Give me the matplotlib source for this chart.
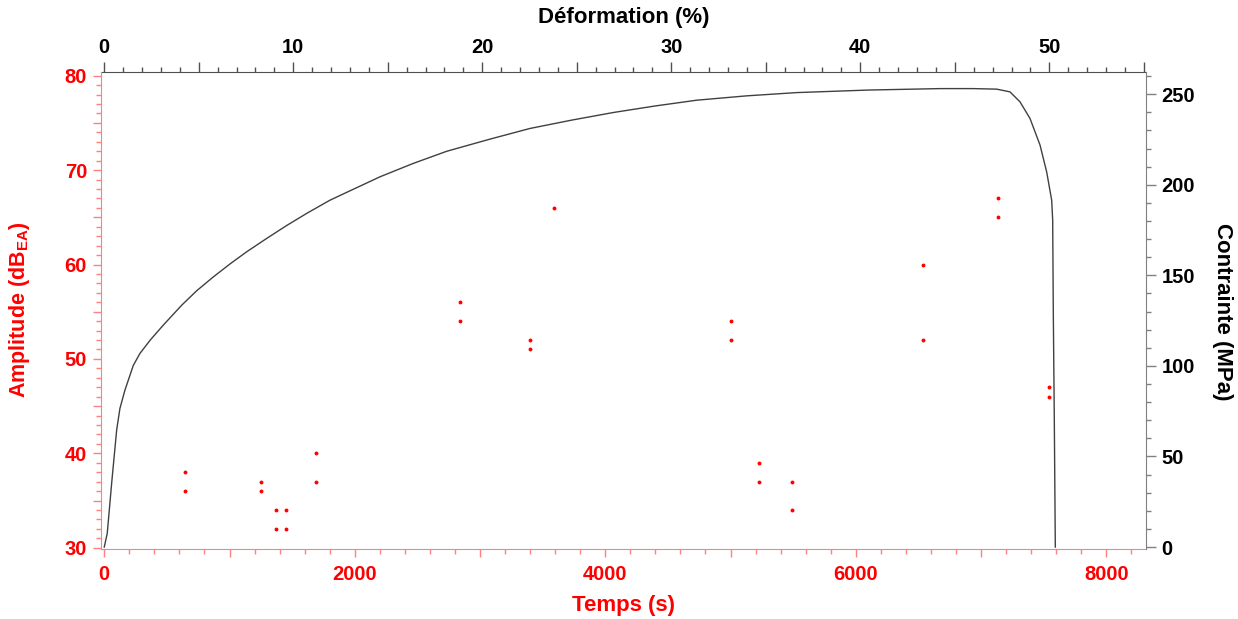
import matplotlib
matplotlib.use("Agg")
import matplotlib.pyplot as plt
from matplotlib.ticker import FixedLocator, FuncFormatter
import numpy as np

plt.rcParams['font.family'] = ['Liberation Sans', 'DejaVu Sans']
plt.rcParams['font.weight'] = 'bold'
plt.rcParams['mathtext.fontset'] = 'custom'
plt.rcParams['mathtext.rm'] = 'Liberation Sans:bold'
plt.rcParams['mathtext.bf'] = 'Liberation Sans:bold'

# --- data: acoustic emission hits (time s, amplitude dB) ---
hit_time = [647, 647, 1253, 1253, 1368, 1368, 1448, 1448, 1690, 1690,
            2838, 2838, 3401, 3401, 3593, 5006, 5006, 5225, 5225,
            5491, 5491, 6537, 6537, 7133, 7133, 7540, 7540]
hit_amp = [38, 36, 37, 36, 34, 32, 34, 32, 40, 37,
           56, 54, 52, 51, 66, 54, 52, 39, 37,
           37, 34, 60, 52, 67, 65, 47, 46]

# --- data: stress curve (time s, stress MPa) ---
curve_time = [0, 24, 59, 99, 125, 165, 232, 285, 365, 471, 618, 738, 870, 1004,
              1137, 1297, 1456, 1616, 1802, 2201, 2467, 2734, 3079, 3399, 3732,
              4064, 4397, 4730, 5129, 5529, 6100, 6672, 6938, 7125, 7231,
              7311, 7391, 7471, 7524, 7564, 7572, 7577, 7585, 7593]
curve_stress = [0, 7.6, 35.2, 64.6, 76.5, 86.6, 100.3, 106.9, 114.1, 122.5, 133.5,
                141.5, 149.1, 156.3, 163.0, 170.4, 177.5, 184.2, 191.5, 204.4,
                211.8, 218.5, 225.2, 231.1, 235.7, 239.9, 243.5, 246.7, 249.1,
                250.9, 252.3, 253.1, 253.1, 252.8, 251.3, 245.8, 236.6, 221.9,
                207.1, 191.5, 180.5, 129, 70, 0]

# tick labels
time_ticks = [0, 2000, 4000, 6000, 8000]
amp_ticks = [30, 40, 50, 60, 70, 80]
stress_ticks = [0, 50, 100, 150, 200, 250]
strain_ticks = [0, 10, 20, 30, 40, 50]

# seconds per percent of strain (top axis scale)
SEC_PER_PCT = 150.9

RED = '#ff0000'
LRED = '#ff8080'
GRAY = '#808080'
DGRAY = '#505050'
TL = 14.5   # tick label size
AL = 16     # axis label size

fig = plt.figure(figsize=(12.38, 6.19), dpi=100)
ax = fig.add_axes([101/1238, 1 - 548.5/619, (1146 - 101)/1238, (548.5 - 72.3)/619])

ax.plot(hit_time, hit_amp, 'o', color=RED, ms=2.8, mew=0, zorder=3)
ax.set_xlim(-26, 8317)
ax.set_ylim(29.92, 80.36)

axr = ax.twinx()
axr.plot(curve_time, curve_stress, color='#404040', lw=1.0)
axr.set_ylim(-0.8, 262.1)

# spines
for s in ['top', 'right']:
    ax.spines[s].set_visible(False)
for s in ['left', 'bottom', 'top']:
    axr.spines[s].set_visible(False)
ax.spines['left'].set_color(LRED)
ax.spines['bottom'].set_color(LRED)
axr.spines['right'].set_color(GRAY)

def only(labels):
    return FuncFormatter(lambda v, p: f"{int(round(v))}" if any(abs(v - l) < 1e-6 for l in labels) else "")

# bottom axis
ax.xaxis.set_major_locator(FixedLocator(list(range(0, 8001, 1000))))
ax.xaxis.set_minor_locator(FixedLocator(list(range(0, 8301, 200))))
ax.xaxis.set_major_formatter(only(time_ticks))
ax.tick_params(axis='x', which='major', direction='out', length=6, width=1, color=LRED,
               labelcolor=RED, labelsize=TL, pad=6)
ax.tick_params(axis='x', which='minor', direction='out', length=3.6, width=1, color=LRED)

# left axis
ax.yaxis.set_major_locator(FixedLocator(list(range(30, 81, 5))))
ax.yaxis.set_minor_locator(FixedLocator(list(range(30, 81, 1))))
ax.yaxis.set_major_formatter(only(amp_ticks))
ax.tick_params(axis='y', which='major', direction='out', length=6, width=1, color=LRED,
               labelcolor=RED, labelsize=TL, pad=4)
ax.tick_params(axis='y', which='minor', direction='out', length=3.6, width=1, color=LRED)

# right axis
axr.yaxis.set_major_locator(FixedLocator(stress_ticks))
axr.yaxis.set_minor_locator(FixedLocator(list(range(0, 261, 10))))
axr.tick_params(axis='y', which='major', direction='out', length=7, width=1, color=GRAY,
                labelcolor='black', labelsize=TL, pad=4)
axr.tick_params(axis='y', which='minor', direction='out', length=3.6, width=1, color=GRAY)

# top axis (strain)
sec = ax.secondary_xaxis('top', functions=(lambda t: np.asarray(t) / SEC_PER_PCT,
                                           lambda d: np.asarray(d) * SEC_PER_PCT))
sec.spines['top'].set_color(DGRAY)
sec.xaxis.set_major_locator(FixedLocator(list(range(0, 56, 5))))
sec.xaxis.set_minor_locator(FixedLocator(list(range(0, 56, 1))))
sec.xaxis.set_major_formatter(only(strain_ticks))
sec.tick_params(axis='x', which='major', direction='out', length=7, width=1, color=DGRAY,
                labelcolor='black', labelsize=TL, pad=4)
sec.tick_params(axis='x', which='minor', direction='out', length=3.6, width=1, color=DGRAY)

# labels
cx = 0.5 * (101 + 1146) / 1238
fig.text(cx, 1 - 17/619, "Déformation (%)", ha='center', va='center',
         fontsize=AL, fontweight='bold', color='black')
fig.text(cx, 1 - 606/619, "Temps (s)", ha='center', va='center',
         fontsize=AL, fontweight='bold', color=RED)
fig.text(20/1238, 1 - 310/619, r"Amplitude (dB$_{\mathbf{EA}}$)", ha='center', va='center',
         rotation=90, fontsize=15.5, fontweight='bold', color=RED)
fig.text(1222/1238, 1 - 312/619, "Contrainte (MPa)", ha='center', va='center',
         rotation=270, fontsize=AL, fontweight='bold', color='black')

fig.savefig("out.png", dpi=100)
